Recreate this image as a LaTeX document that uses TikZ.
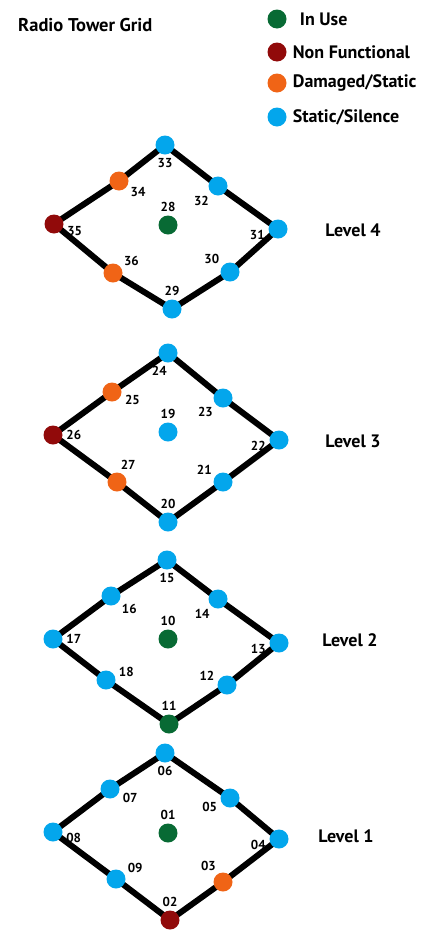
\documentclass[tikz,border=0pt]{standalone}
\usepackage{fontspec}
\setmainfont{PT Sans}
\usepackage{tikz}
\usetikzlibrary{positioning}
\usetikzlibrary{backgrounds}
\definecolor{inusegreen}{RGB}{8,106,52}
\definecolor{brokenred}{RGB}{145,10,10}
\definecolor{damagedorange}{RGB}{240,100,22}
\definecolor{silentblue}{RGB}{3,166,236}
\tikzset{
tower/.style={circle, inner sep=0pt, minimum size=19pt},
inuse/.style={tower, fill=inusegreen},
broken/.style={tower, fill=brokenred},
damaged/.style={tower, fill=damagedorange},
silent/.style={tower, fill=silentblue},
num/.style={font=\fontsize{13}{13}\selectfont\bfseries, inner sep=0pt, text=black},
legend/.style={font=\fontsize{18}{18}\selectfont\bfseries, inner sep=0pt, anchor=west},
levelname/.style={font=\fontsize{18}{18}\selectfont\bfseries, inner sep=0pt},
gridline/.style={line width=6pt, draw=black, line join=round}
}

\begin{document}
\begin{tikzpicture}[x=1pt, y=-1pt, label distance=3.5pt]
    \useasboundingbox (0,0) rectangle (435,940);

    % title and key
    \node[legend, font=\fontsize{18.5}{18.5}\selectfont\bfseries] (title) at (18,25) {Radio Tower Grid};
    \node[inuse] (key_use) at (277,19) {};
    \node[broken] (key_broken) at (277,52) {};
    \node[damaged] (key_damaged) at (277,83) {};
    \node[silent] (key_silent) at (277,117) {};
    \node[legend] (m_use) [right=13pt of key_use] {In Use};
    \node[legend] (m_broken) [right=6pt of key_broken] {Non Functional};
    \node[legend] (m_damaged) [right=6pt of key_damaged] {Damaged/Static};
    \node[legend] (m_silent) [right=6pt of key_silent] {Static/Silence};

    % level 4
    \node[silent, label={[num]below:33}] (t33) at (165,145) {};
    \node[damaged, label={[num]-30:34}] (t34) at (119,181) {};
    \node[broken, label={[num]-8:35}] (t35) at (54,224) {};
    \node[damaged, label={[num]35:36}] (t36) at (113,273) {};
    \node[silent, label={[num]above:29}] (t29) at (172,309) {};
    \node[silent, label={[num]144:30}] (t30) at (230,272) {};
    \node[silent, label={[num]185:31}] (t31) at (278,229) {};
    \node[silent, label={[num]227:32}] (t32) at (218,186) {};
    \node[inuse, label={[num]above:28}] (t28) at (168,225) {};
    \node[levelname] (level_4) at (353,230) {Level 4};

    % level 3
    \node[silent, label={[num]-95:24}] (t24) at (168,353) {};
    \node[damaged, label={[num]-13:25}] (t25) at (112,392) {};
    \node[broken, label={[num]right:26}] (t26) at (53,435) {};
    \node[damaged, label={[num]74:27}] (t27) at (117,482) {};
    \node[silent, label={[num]above:20}] (t20) at (168,522) {};
    \node[silent, label={[num]147:21}] (t21) at (223,482) {};
    \node[silent, label={[num]185:22}] (t22) at (279,440) {};
    \node[silent, label={[num]221:23}] (t23) at (223,398) {};
    \node[silent, label={[num]above:19}] (t19) at (168,432) {};
    \node[levelname] (level_3) at (353,441) {Level 3};

    % level 2
    \node[silent, label={[num]below:15}] (t15) at (167,560) {};
    \node[silent, label={[num]-36:16}] (t16) at (111,596) {};
    \node[silent, label={[num]right:17}] (t17) at (53,639) {};
    \node[silent, label={[num]15:18}] (t18) at (106,680) {};
    \node[inuse, label={[num]above:11}] (t11) at (169,724) {};
    \node[silent, label={[num]162:12}] (t12) at (227,685) {};
    \node[silent, label={[num]185:13}] (t13) at (279,643) {};
    \node[silent, label={[num]231:14}] (t14) at (218,599) {};
    \node[inuse, label={[num]above:10}] (t10) at (168,639) {};
    \node[levelname] (level_2) at (350,640) {Level 2};

    % level 1
    \node[silent, label={[num]below:06}] (t06) at (165,753) {};
    \node[silent, label={[num]-18:07}] (t07) at (110,789) {};
    \node[silent, label={[num]-6:08}] (t08) at (53,832) {};
    \node[silent, label={[num]28:09}] (t09) at (116,879) {};
    \node[broken, label={[num]above:02}] (t02) at (170,920) {};
    \node[damaged, label={[num]122:03}] (t03) at (223,882) {};
    \node[silent, label={[num]186:04}] (t04) at (279,839) {};
    \node[silent, label={[num]196:05}] (t05) at (230,798) {};
    \node[inuse, label={[num]above:01}] (t01) at (168,833) {};
    \node[levelname] (level_1) at (346,836) {Level 1};

    \begin{scope}[on background layer]
        \draw[gridline] (t33.center) -- (t32.center) -- (t31.center) -- (t30.center) -- (t29.center) -- (t36.center) -- (t35.center) -- (t34.center) -- cycle;
        \draw[gridline] (t24.center) -- (t23.center) -- (t22.center) -- (t21.center) -- (t20.center) -- (t27.center) -- (t26.center) -- (t25.center) -- cycle;
        \draw[gridline] (t15.center) -- (t14.center) -- (t13.center) -- (t12.center) -- (t11.center) -- (t18.center) -- (t17.center) -- (t16.center) -- cycle;
        \draw[gridline] (t06.center) -- (t05.center) -- (t04.center) -- (t03.center) -- (t02.center) -- (t09.center) -- (t08.center) -- (t07.center) -- cycle;
    \end{scope}
\end{tikzpicture}
\end{document}
